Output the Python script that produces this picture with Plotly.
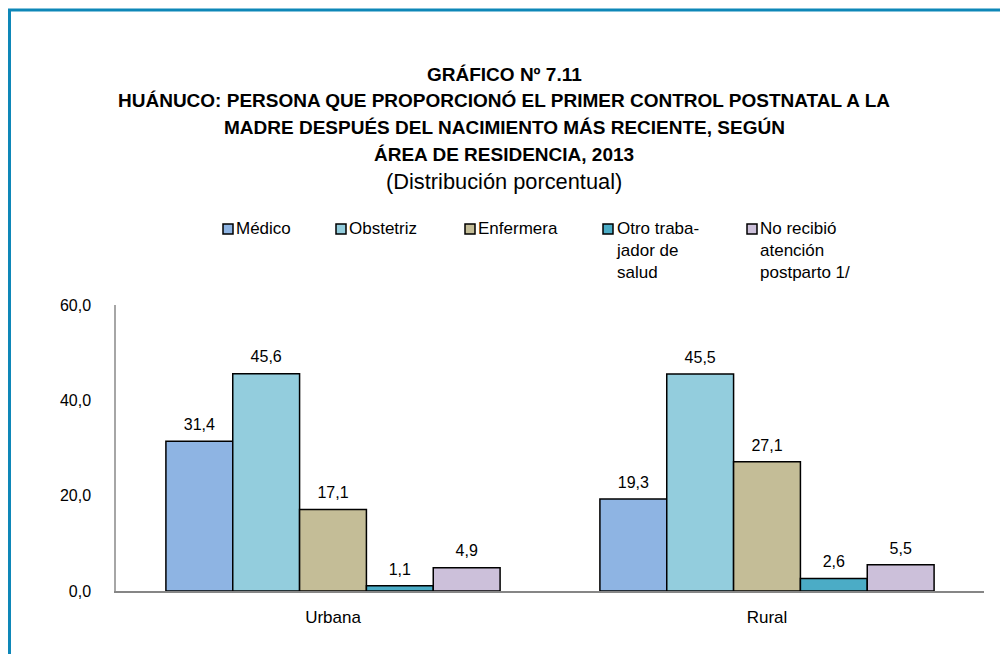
import plotly.graph_objects as go

areas = ["Urbana", "Rural"]
series = ["Médico", "Obstetriz", "Enfermera", "Otro trabajador de salud", "No recibió atención postparto 1/"]
legend_labels = ["Médico", "Obstetriz", "Enfermera", "Otro traba-<br>jador de<br>salud", "No recibió<br>atención<br>postparto 1/"]
medico = [31.4, 19.3]
obstetriz = [45.6, 45.5]
enfermera = [17.1, 27.1]
otro = [1.1, 2.6]
no_recibio = [4.9, 5.5]
values = [medico, obstetriz, enfermera, otro, no_recibio]
y_ticks = [0, 20, 40, 60]

colors = ["#8EB4E3", "#93CDDD", "#C4BD97", "#4BACC6", "#CCC0DA"]

# page has an 8px body margin, so the figure is drawn 8px in and 8px down
OFF = 8
W, H = 1000, 646
L, R, T, B = 116 - OFF, 24, 305 - OFF, 63
pw, ph = W - L - R, H - T - B

def px(x):
    # x in page pixels -> paper coords
    return (x - OFF - L) / pw

def py(y):
    return (H - B - (y - OFF)) / ph

font_body = "Liberation Sans, Arial, sans-serif"

fig = go.Figure()
for name, vals, col in zip(series, values, colors):
    fig.add_trace(go.Bar(
        x=areas, y=vals, name=name, offsetgroup=name,
        marker=dict(color=col, line=dict(color="#000000", width=1.5)),
        showlegend=False,
    ))
    # value labels floated a little above each bar
    fig.add_trace(go.Scatter(
        x=areas, y=vals, offsetgroup=name, mode="markers+text",
        text=[f"{v:.1f}".replace(".", ",") for v in vals],
        textposition="top center",
        marker=dict(size=10, opacity=0),
        textfont=dict(family=font_body, size=16, color="#000000"),
        showlegend=False, hoverinfo="skip",
    ))

fig.update_layout(
    width=W, height=H,
    margin=dict(l=L, r=R, t=T, b=B),
    paper_bgcolor="white", plot_bgcolor="white",
    barmode="group", scattermode="group", bargap=0.23, bargroupgap=0,
    separators=",.",
    font=dict(family=font_body, size=16, color="#000000"),
    xaxis=dict(showline=True, linecolor="#868686", linewidth=2, ticks="",
               ticklabelstandoff=10, tickfont=dict(size=17)),
    yaxis=dict(range=[0, 60], tickvals=y_ticks, tickformat=".1f",
               showline=True, linecolor="#A6A6A6", linewidth=1.5,
               showgrid=False, zeroline=False, ticks="",
               ticklabelstandoff=20, tickfont=dict(size=16)),
)

# frame
fig.add_shape(type="line", xref="paper", yref="paper", x0=px(8), x1=px(1012),
              y0=py(10), y1=py(10), line=dict(color="#0E87B8", width=3))
fig.add_shape(type="line", xref="paper", yref="paper", x0=px(9.5), x1=px(9.5),
              y0=py(9), y1=py(660), line=dict(color="#0E87B8", width=3))

# titles
title_lines = [
    "GRÁFICO Nº 7.11",
    "HUÁNUCO: PERSONA QUE PROPORCIONÓ EL PRIMER CONTROL POSTNATAL A LA",
    "MADRE DESPUÉS DEL NACIMIENTO MÁS RECIENTE, SEGÚN",
    "ÁREA DE RESIDENCIA, 2013",
]
for i, line in enumerate(title_lines):
    fig.add_annotation(xref="paper", yref="paper", x=px(504), y=py(74 + 26.8 * i),
                       text=f"<b>{line}</b>", showarrow=False,
                       xanchor="center", yanchor="middle",
                       font=dict(family=font_body, size=19, color="#000000"))
fig.add_annotation(xref="paper", yref="paper", x=px(504), y=py(181),
                   text="(Distribución porcentual)", showarrow=False,
                   xanchor="center", yanchor="middle",
                   font=dict(family=font_body, size=21.8, color="#000000"))

# legend drawn by hand
leg_x = [223, 336, 465, 603, 747]
for x0, lab, col in zip(leg_x, legend_labels, colors):
    fig.add_shape(type="rect", xref="paper", yref="paper",
                  x0=px(x0), x1=px(x0 + 10), y0=py(234), y1=py(224),
                  fillcolor=col, line=dict(color="#000000", width=1.5))
    fig.add_annotation(xref="paper", yref="paper", x=px(x0 + 11), y=py(217),
                       text=lab, showarrow=False, xanchor="left", yanchor="top",
                       align="left",
                       font=dict(family=font_body, size=17, color="#000000"))

fig.write_html("out.html")
